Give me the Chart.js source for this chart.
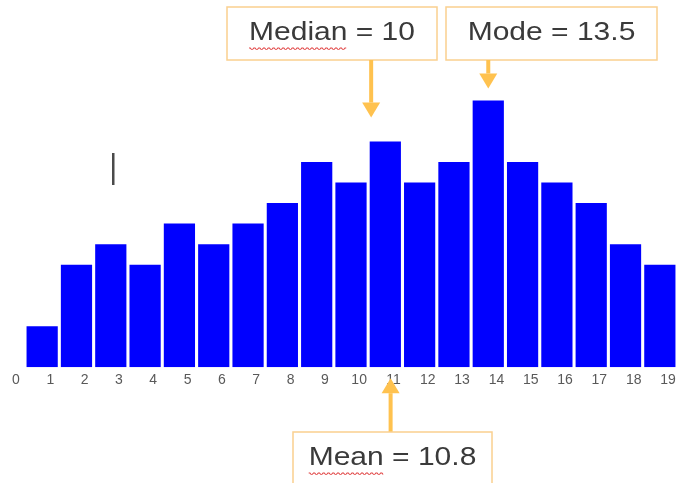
<!DOCTYPE html>
<html>
<head>
<meta charset="utf-8">
<script src="https://cdn.jsdelivr.net/npm/chart.js@4.4.0/dist/chart.umd.min.js"></script>
<style>
  html, body { margin: 0; padding: 0; background: #fff; }
  #wrap { width: 679px; height: 483px; }
</style>
</head>
<body>
<div id="wrap"><canvas id="hist" width="679" height="483"></canvas></div>
<script>
// histogram bins (left edge) and counts
const binStarts = [0, 1, 2, 3, 4, 5, 6, 7, 8, 9, 10, 11, 12, 13, 14, 15, 16, 17, 18];
const counts = [2, 5, 6, 5, 7, 6, 7, 8, 10, 9, 11, 9, 10, 13, 10, 9, 8, 6, 5];

// summary stats shown in the call-outs
const statNames = ["Median", "Mode", "Mean"];
const statValues = [10, 13.5, 10.8];

const ORANGE = "#FFC24F";
const BOX_BORDER = "#FAD08F";

function drawArrow(ctx, x, yFrom, yTo) {
  // vertical arrow, head at yTo
  const dir = yTo > yFrom ? 1 : -1;
  const headLen = 15, headW = 9;
  ctx.save();
  ctx.strokeStyle = ORANGE;
  ctx.fillStyle = ORANGE;
  ctx.lineWidth = 4;
  ctx.beginPath();
  ctx.moveTo(x, yFrom);
  ctx.lineTo(x, yTo - dir * headLen);
  ctx.stroke();
  ctx.beginPath();
  ctx.moveTo(x - headW, yTo - dir * headLen);
  ctx.lineTo(x + headW, yTo - dir * headLen);
  ctx.lineTo(x, yTo);
  ctx.closePath();
  ctx.fill();
  ctx.restore();
}

function drawBox(ctx, left, top, right, bottom, text, squiggleWord) {
  ctx.save();
  ctx.strokeStyle = BOX_BORDER;
  ctx.lineWidth = 1.5;
  ctx.fillStyle = "#fff";
  ctx.fillRect(left, top, right - left, bottom - top);
  ctx.strokeRect(left, top, right - left, bottom - top);

  // text is a bit stretched sideways in the source picture
  const stretch = 1.2;
  const cx = (left + right) / 2;
  const cy = top + 26;
  ctx.font = "25px 'Liberation Sans', Arial, sans-serif";
  ctx.fillStyle = "#3a3a3a";
  ctx.textBaseline = "middle";
  const w = ctx.measureText(text).width * stretch;
  const x0 = cx - w / 2;
  ctx.translate(x0, cy);
  ctx.scale(stretch, 1);
  ctx.fillText(text, 0, 0);
  if (squiggleWord) {
    const sw = ctx.measureText(squiggleWord).width;
    ctx.strokeStyle = "#E04040";
    ctx.lineWidth = 0.9;
    ctx.beginPath();
    for (let i = 0; i <= sw; i += 1) {
      const yy = 15 + (i % 4 < 2 ? 0 : 1.4);
      if (i === 0) ctx.moveTo(i, yy); else ctx.lineTo(i, yy);
    }
    ctx.stroke();
  }
  ctx.restore();
}

const calloutPlugin = {
  id: "callouts",
  afterDraw(chart) {
    const ctx = chart.ctx;
    const xs = chart.scales.x;
    const ys = chart.scales.y;
    const bottom = chart.chartArea.bottom;

    // Median: box above, arrow down onto its bin
    const medX = xs.getPixelForValue(statValues[0]);
    const medBin = Math.floor(statValues[0]);
    drawBox(ctx, 227, 7, 437, 60, statNames[0] + " = " + statValues[0], statNames[0]);
    drawArrow(ctx, medX + 3, 60, ys.getPixelForValue(counts[medBin]) - 24);

    // Mode: box above, short arrow to the tallest bar
    const modeX = xs.getPixelForValue(statValues[1]);
    const modeBin = Math.floor(statValues[1]);
    drawBox(ctx, 446, 7, 657, 60, statNames[1] + " = " + statValues[1], null);
    drawArrow(ctx, modeX, 60, ys.getPixelForValue(counts[modeBin]) - 12);

    // Mean: box below the axis, arrow pointing up
    const meanX = xs.getPixelForValue(statValues[2]);
    drawArrow(ctx, meanX - 5, 432, bottom + 11);
    drawBox(ctx, 293, 432, 492, 492, statNames[2] + " = " + statValues[2], statNames[2]);

    // stray text cursor left in the slide
    ctx.save();
    ctx.fillStyle = "#4a4a4a";
    ctx.fillRect(112, 153, 2.5, 32);
    ctx.restore();
  }
};

const ctx = document.getElementById("hist").getContext("2d");
new Chart(ctx, {
  type: "bar",
  data: {
    datasets: [{
      data: binStarts.map((b, i) => ({ x: b + 0.5, y: counts[i] })),
      backgroundColor: "#0000FF",
      borderWidth: 0,
      barPercentage: 0.91,
      categoryPercentage: 1
    }]
  },
  options: {
    responsive: false,
    animation: false,
    layout: { padding: { left: 25, right: 2, top: 39, bottom: 89 } },
    plugins: { legend: { display: false }, tooltip: { enabled: false } },
    scales: {
      x: {
        type: "linear",
        min: 0,
        max: 19,
        offset: false,
        grid: { display: false, drawTicks: false },
        border: { display: false },
        afterFit(scale) {
          // labels are shifted left, so don't let them shrink the plot
          scale.paddingLeft = 0;
          scale.paddingRight = 0;
        },
        ticks: {
          stepSize: 1,
          autoSkip: false,
          maxRotation: 0,
          labelOffset: -9,
          padding: 5,
          color: "#595959",
          font: { family: "'Liberation Sans', Arial, sans-serif", size: 14 }
        }
      },
      y: { display: false, min: 0, max: 16 }
    }
  },
  plugins: [calloutPlugin]
});
</script>
</body>
</html>
